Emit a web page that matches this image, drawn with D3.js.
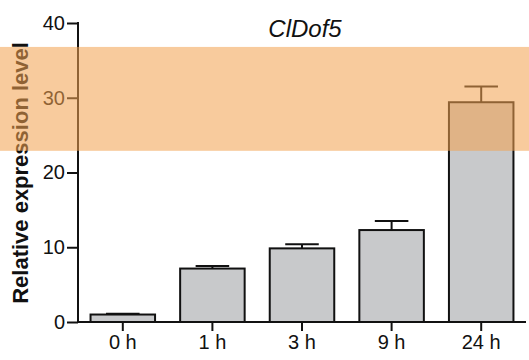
<!DOCTYPE html>
<html>
<head>
<meta charset="utf-8">
<script src="https://cdn.jsdelivr.net/npm/d3@7"></script>
<style>
  body { margin: 0; background: #fff; }
  svg { display: block; font-family: "Liberation Sans", Arial, sans-serif; }
</style>
</head>
<body>
<div id="chart"></div>
<script>
const categories = ["0 h", "1 h", "3 h", "9 h", "24 h"];
const means = [1.0, 7.15, 9.85, 12.3, 29.4];
const errors = [0.12, 0.35, 0.55, 1.2, 2.1];
const yTicks = [0, 10, 20, 30, 40];
const title = "ClDof5";
const yLabel = "Relative expression level";
// highlight band, in data units
const band = [22.9, 36.8];

const width = 529, height = 360;
const margin = { top: 23, right: 3, bottom: 38, left: 78 };
const fontFam = "'Liberation Sans', Arial, sans-serif";

const svg = d3.select("#chart").append("svg")
  .attr("width", width)
  .attr("height", height);

const x = d3.scaleBand()
  .domain(categories)
  .range([margin.left, width - margin.right])
  .paddingInner(0.28)
  .paddingOuter(0.14);

const y = d3.scaleLinear()
  .domain([0, 40])
  .range([height - margin.bottom, margin.top]);

// bars
svg.append("g")
  .selectAll("rect")
  .data(means)
  .join("rect")
  .attr("x", (d, i) => x(categories[i]))
  .attr("y", d => y(d))
  .attr("width", x.bandwidth())
  .attr("height", d => y(0) - y(d))
  .attr("fill", "#c8c9cb")
  .attr("stroke", "#111")
  .attr("stroke-width", 2);

// error bars (upper only)
const capW = x.bandwidth() * 0.52;
const eb = svg.append("g").attr("stroke", "#111").attr("stroke-width", 2);
means.forEach((m, i) => {
  const cx = x(categories[i]) + x.bandwidth() / 2;
  eb.append("line")
    .attr("x1", cx).attr("x2", cx)
    .attr("y1", y(m)).attr("y2", y(m + errors[i]));
  eb.append("line")
    .attr("x1", cx - capW / 2).attr("x2", cx + capW / 2)
    .attr("y1", y(m + errors[i])).attr("y2", y(m + errors[i]));
});

// y axis
const yAxis = d3.axisLeft(y).tickValues(yTicks).tickSize(11).tickPadding(2);
const gy = svg.append("g")
  .attr("transform", `translate(${margin.left},0)`)
  .call(yAxis);
gy.select(".domain").attr("stroke", "#111").attr("stroke-width", 2)
  .attr("d", `M0,${y(40) - 1}V${y(0)}`);
gy.selectAll(".tick line").attr("stroke", "#111").attr("stroke-width", 2);
gy.selectAll(".tick text").attr("font-size", 20).attr("fill", "#111")
  .attr("font-family", fontFam);

// x axis
const xAxis = d3.axisBottom(x).tickSize(9).tickPadding(4);
const gx = svg.append("g")
  .attr("transform", `translate(0,${y(0)})`)
  .call(xAxis);
gx.select(".domain").attr("stroke", "#111").attr("stroke-width", 2)
  .attr("d", `M${margin.left},0H${width - margin.right}`);
gx.selectAll(".tick line").attr("stroke", "#111").attr("stroke-width", 2);
gx.selectAll(".tick text").attr("font-size", 20).attr("fill", "#111")
  .attr("font-family", fontFam);

// title
svg.append("text")
  .attr("x", 305)
  .attr("y", 37)
  .attr("text-anchor", "middle")
  .attr("font-size", 24)
  .attr("font-style", "italic")
  .attr("fill", "#111")
  .attr("font-family", fontFam)
  .text(title);

// y label
svg.append("text")
  .attr("transform", `translate(28,173) rotate(-90)`)
  .attr("text-anchor", "middle")
  .attr("font-size", 22)
  .attr("font-weight", "bold")
  .attr("fill", "#111")
  .attr("font-family", fontFam)
  .text(yLabel);

// highlight band across full width
svg.append("rect")
  .attr("x", 0)
  .attr("width", width)
  .attr("y", y(band[1]))
  .attr("height", y(band[0]) - y(band[1]))
  .attr("fill", "rgb(243,163,81)")
  .attr("fill-opacity", 0.56);
</script>
</body>
</html>
